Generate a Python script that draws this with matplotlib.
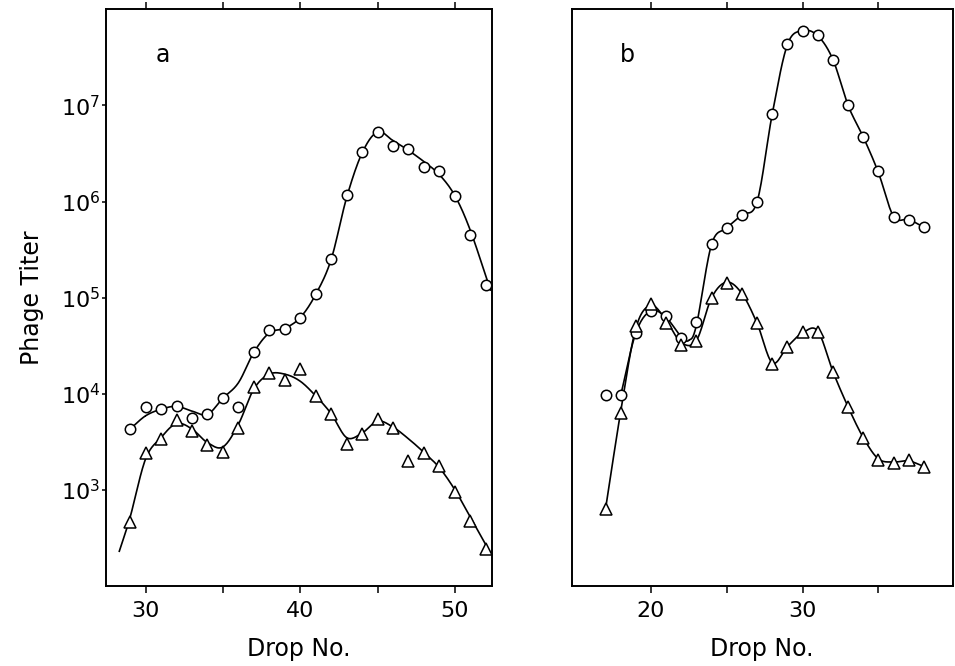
import numpy as np
import matplotlib
matplotlib.use("Agg")
import matplotlib.pyplot as plt
from matplotlib.ticker import FixedLocator, NullLocator

plt.rcParams['font.family'] = ['DejaVu Sans']
plt.rcParams['mathtext.default'] = 'regular'

# ---- panel a data ----
a_drop = [29, 30, 31, 32, 33, 34, 35, 36, 37, 38, 39, 40, 41, 42, 43, 44,
          45, 46, 47, 48, 49, 50, 51, 52]
a_circle = [4.3e3, 7.2e3, 7.0e3, 7.5e3, 5.6e3, 6.1e3, 9.0e3, 7.2e3, 2.7e4, 4.6e4,
            4.7e4, 6.2e4, 1.08e5, 2.5e5, 1.16e6, 3.3e6, 5.3e6, 3.8e6, 3.5e6, 2.3e6,
            2.1e6, 1.14e6, 4.5e5, 1.37e5]
a_triangle = [4.6e2, 2.4e3, 3.4e3, 5.3e3, 4.1e3, 2.9e3, 2.5e3, 4.4e3, 1.19e4, 1.66e4,
              1.38e4, 1.8e4, 9.5e3, 6.2e3, 3.0e3, 3.8e3, 5.4e3, 4.4e3, 2.0e3, 2.4e3,
              1.78e3, 9.5e2, 4.8e2, 2.4e2]

# hand-drawn fit curves of panel a
a_circle_fit_x = [29, 30, 31, 32, 33, 34, 35, 36, 37, 38, 39, 40, 41, 42, 43, 44,
                  45, 46, 47, 48, 49, 50, 51, 52.3]
a_circle_fit = [4.3e3, 5.9e3, 6.9e3, 7.4e3, 6.6e3, 6.1e3, 9.0e3, 1.3e4, 2.7e4, 4.3e4,
                4.8e4, 6.2e4, 1.08e5, 2.5e5, 1.1e6, 3.2e6, 5.3e6, 4.3e6, 3.4e6, 2.6e6,
                1.9e6, 1.15e6, 5.0e5, 1.2e5]
a_triangle_fit_x = [28.3, 29, 30, 31, 32, 33, 34, 35, 36, 37, 38, 39, 40, 41, 42, 43,
                    44, 45, 46, 47, 48, 49, 50, 51, 52.3]
a_triangle_fit = [2.3e2, 5.2e2, 2.1e3, 3.5e3, 4.9e3, 4.3e3, 3.1e3, 2.8e3, 4.8e3, 1.12e4,
                  1.6e4, 1.6e4, 1.35e4, 9.5e3, 6.2e3, 3.5e3, 3.9e3, 5.2e3, 4.5e3, 3.4e3,
                  2.45e3, 1.7e3, 1.0e3, 5.2e2, 2.2e2]

# ---- panel b data ----
b_drop = list(range(17, 39))
b_circle = [9.7e3, 9.6e3, 4.3e4, 7.3e4, 6.4e4, 3.8e4, 5.6e4, 3.6e5, 5.3e5, 7.3e5,
            1.0e6, 8.2e6, 4.4e7, 6.0e7, 5.4e7, 3.0e7, 1.02e7, 4.7e6, 2.07e6, 6.9e5,
            6.5e5, 5.4e5]
b_triangle = [6.3e2, 6.3e3, 5.1e4, 8.5e4, 5.5e4, 3.2e4, 3.5e4, 1.0e5, 1.43e5, 1.1e5,
              5.4e4, 2.06e4, 3.1e4, 4.4e4, 4.4e4, 1.69e4, 7.3e3, 3.5e3, 2.04e3, 1.92e3,
              2.04e3, 1.73e3]

b_circle_fit_x = [18, 19, 20, 21, 22, 22.5, 23, 24, 25, 26, 27, 28, 29, 30, 31, 32,
                  33, 34, 35, 36, 37, 38]
b_circle_fit = [9.6e3, 4.3e4, 7.3e4, 6.2e4, 3.9e4, 3.6e4, 5.2e4, 3.6e5, 5.3e5, 7.3e5,
                1.0e6, 8.2e6, 4.3e7, 6.0e7, 5.3e7, 3.0e7, 1.0e7, 4.7e6, 2.0e6, 7.0e5,
                6.5e5, 5.4e5]
b_triangle_fit_x = list(range(17, 39))
b_triangle_fit = [6.3e2, 6.5e3, 4.8e4, 8.3e4, 5.8e4, 3.4e4, 3.6e4, 1.0e5, 1.45e5, 1.1e5,
                  5.4e4, 2.1e4, 3.1e4, 4.3e4, 4.5e4, 1.7e4, 7.3e3, 3.5e3, 2.1e3, 1.95e3,
                  2.0e3, 1.75e3]

y_ticks = [1e3, 1e4, 1e5, 1e6, 1e7]


def smooth(x, y, n=16):
    """Catmull-Rom through the fit points, in log space."""
    x = np.asarray(x, float)
    ly = np.log10(np.asarray(y, float))
    px = np.concatenate([[2 * x[0] - x[1]], x, [2 * x[-1] - x[-2]]])
    py = np.concatenate([[2 * ly[0] - ly[1]], ly, [2 * ly[-1] - ly[-2]]])
    t = np.linspace(0, 1, n)[:, None]
    xs, ys = [], []
    for i in range(1, len(px) - 2):
        P = np.array([[px[i - 1], py[i - 1]], [px[i], py[i]],
                      [px[i + 1], py[i + 1]], [px[i + 2], py[i + 2]]])
        pts = 0.5 * ((2 * P[1]) + (-P[0] + P[2]) * t
                     + (2 * P[0] - 5 * P[1] + 4 * P[2] - P[3]) * t ** 2
                     + (-P[0] + 3 * P[1] - 3 * P[2] + P[3]) * t ** 3)
        xs.append(pts[:, 0])
        ys.append(pts[:, 1])
    return np.concatenate(xs), 10 ** np.concatenate(ys)


fig = plt.figure(figsize=(9.55, 6.66), dpi=100)
W, H = 955, 666
ax_a = fig.add_axes([106 / W, 1 - 586 / H, (491.7 - 106) / W, (586 - 9.3) / H])
ax_b = fig.add_axes([571.7 / W, 1 - 586 / H, (952.7 - 571.7) / W, (586 - 9.3) / H])

mk = dict(markerfacecolor='white', markeredgecolor='black', markeredgewidth=1.1,
          linestyle='none', zorder=3)

for ax, drop, circ, tri, cfx, cf, tfx, tf in [
        (ax_a, a_drop, a_circle, a_triangle, a_circle_fit_x, a_circle_fit,
         a_triangle_fit_x, a_triangle_fit),
        (ax_b, b_drop, b_circle, b_triangle, b_circle_fit_x, b_circle_fit,
         b_triangle_fit_x, b_triangle_fit)]:
    sx, sy = smooth(cfx, cf)
    ax.plot(sx, sy, color='black', lw=1.2, zorder=2)
    sx, sy = smooth(tfx, tf)
    ax.plot(sx, sy, color='black', lw=1.2, zorder=2)
    ax.plot(drop, circ, marker='o', markersize=7.5, **mk)
    ax.plot(drop, tri, marker='^', markersize=8, **mk)
    ax.set_yscale('log')
    ax.set_ylim(1e2, 1e8)
    for s in ax.spines.values():
        s.set_linewidth(1.4)
    ax.tick_params(axis='x', which='major', direction='out', length=5, width=1.1,
                   top=True, labeltop=False, labelsize=16, pad=6)
    ax.set_xlabel('Drop No.', fontsize=17, labelpad=11)

ax_a.set_xlim(27.44, 52.38)
ax_a.set_xticks([30, 35, 40, 45, 50], ['30', '', '40', '', '50'])
ax_a.yaxis.set_major_locator(FixedLocator(y_ticks))
ax_a.yaxis.set_minor_locator(NullLocator())
ax_a.set_yticklabels([r'$10^{%d}$' % int(np.log10(v)) for v in y_ticks])
ax_a.tick_params(axis='y', which='major', direction='out', length=3, width=1.1,
                 labelsize=16, pad=1)
ax_a.set_ylabel('Phage Titer', fontsize=17, labelpad=12)

ax_b.set_xlim(14.77, 39.9)
ax_b.set_xticks([20, 25, 30, 35], ['20', '', '30', ''])
ax_b.yaxis.set_major_locator(NullLocator())
ax_b.yaxis.set_minor_locator(NullLocator())

# panel letters
fig.text(163 / W, 1 - 55 / H, 'a', fontsize=17, ha='center', va='center')
fig.text(627 / W, 1 - 55 / H, 'b', fontsize=17, ha='center', va='center')

fig.savefig('out.png', dpi=100)
